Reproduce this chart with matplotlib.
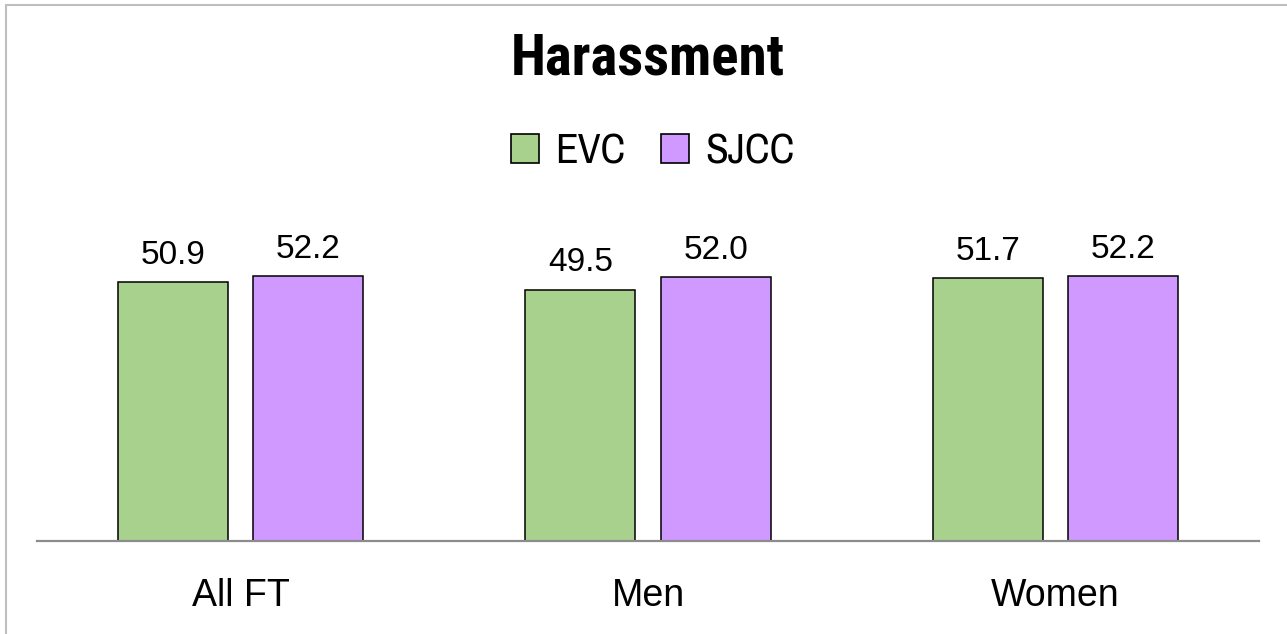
import numpy as np
import matplotlib.pyplot as plt
from matplotlib.patches import Patch, Rectangle

categories = ['All FT', 'Men', 'Women']
evc = [50.9, 49.5, 51.7]
sjcc = [52.2, 52.0, 52.2]
series_names = ['EVC', 'SJCC']
colors = ['#A9D18E', '#CF99FF']

narrow = ['Archivo Narrow', 'Liberation Sans', 'DejaVu Sans']
narrow_bold = ['Roboto Condensed', 'Liberation Sans', 'DejaVu Sans']
regular = ['Liberation Sans', 'DejaVu Sans']

W, H = 1287, 634
fig = plt.figure(figsize=(W / 100, H / 100), dpi=100)

# axes placed in pixel terms: baseline at y=541, x from 37 to 1259
ax = fig.add_axes([37 / W, 1 - 541 / H, 1222 / W, 305 / H])

x = np.arange(len(categories))
width = 0.27
offset = 0.166

b1 = ax.bar(x - offset, evc, width, color=colors[0], edgecolor='black', linewidth=1.1)
b2 = ax.bar(x + offset, sjcc, width, color=colors[1], edgecolor='black', linewidth=1.1)

for bars in (b1, b2):
    ax.bar_label(bars, fmt='%.1f', padding=8, fontsize=24, family=regular)

ax.set_xlim(-0.5, 2.5)
ax.set_ylim(0, 305 / 5.08)
ax.set_xticks(x)
ax.set_xticklabels(categories, fontsize=27, family=regular)
ax.tick_params(axis='x', length=0, pad=27)
ax.set_yticks([])

for s in ['top', 'right', 'left']:
    ax.spines[s].set_visible(False)
ax.spines['bottom'].set_color('#8C8C8C')
ax.spines['bottom'].set_linewidth(1.6)

fig.text(648 / W, 1 - 59 / H, 'Harassment', ha='center', va='center',
         fontsize=41, fontweight='bold', family=narrow_bold)

handles = [Patch(facecolor=c, edgecolor='black', linewidth=1.2) for c in colors]
fig.legend(handles, series_names, loc='center', bbox_to_anchor=(653 / W, 1 - 151 / H),
           ncol=2, frameon=False, prop={'family': narrow, 'size': 30},
           handlelength=0.67, handleheight=0.67, handletextpad=0.4, columnspacing=0.85)

# outer chart border
fig.patches.append(Rectangle((6 / W, -0.05), 1.1, 1 - 5 / H + 0.05, transform=fig.transFigure,
                             fill=False, edgecolor='#BFBFBF', linewidth=1.5))

fig.savefig('out.png', dpi=100)
